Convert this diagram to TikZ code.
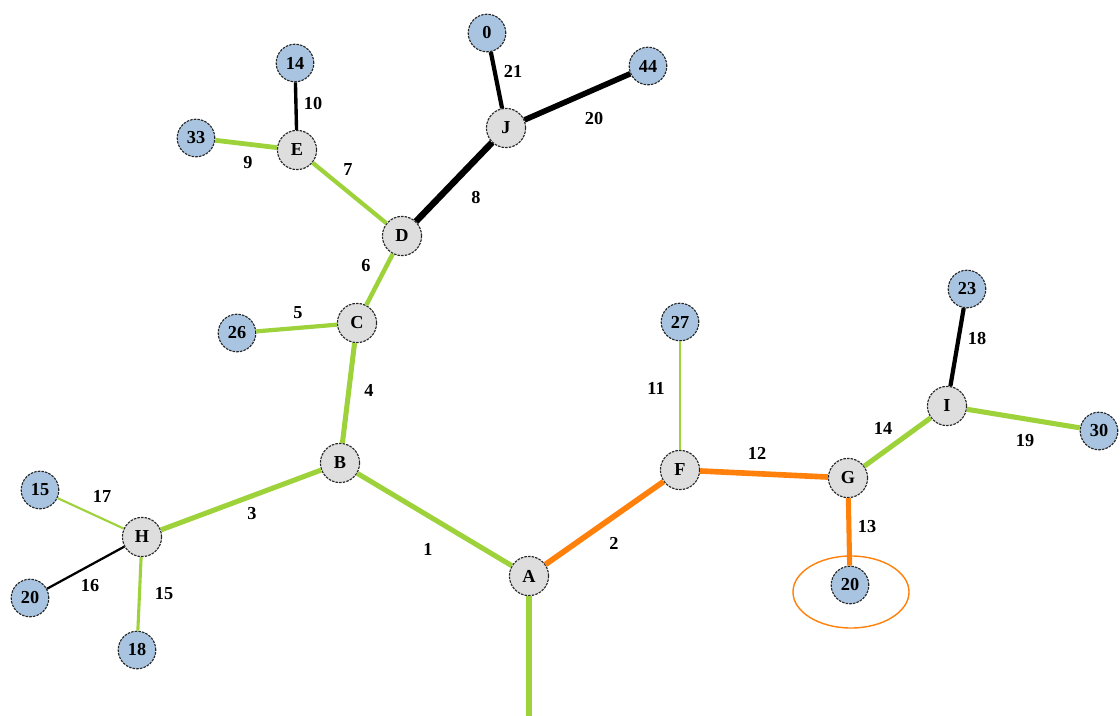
\documentclass[tikz,border=0pt]{standalone}
\usepackage{fontspec}
\setmainfont{Liberation Serif}
\usetikzlibrary{shapes.geometric}
\definecolor{cgreen}{RGB}{158,210,58}
\definecolor{corange}{RGB}{255,128,10}
\definecolor{cleaf}{RGB}{168,196,224}
\definecolor{cinner}{RGB}{222,222,222}

\begin{document}
\begin{tikzpicture}[x=0.025cm,y=-0.025cm,
        leaf/.style={circle,draw=black!85,dash pattern=on 1.8pt off 0.8pt,line width=0.8pt,
          fill=cleaf,inner sep=0pt,minimum size=0.94cm,font=\fontsize{13}{13}\selectfont\bfseries},
        inner/.style={leaf,fill=cinner,minimum size=0.98cm},
        wt/.style={font=\fontsize{13}{13}\selectfont\bfseries,inner sep=1pt}]
      \useasboundingbox (0,0) rectangle (1120,716);
      % inner vertices
      \foreach \n/\x/\y in {A/529/576, B/340/463, C/357/323, D/402/236, E/297/150,
                            F/680/470, G/848/478, H/142/537, I/947/406, J/506/128}
        \node[inner] (\n) at (\x,\y) {\n};
      % leaves
      \foreach \n/\lab/\x/\y in {l0/0/487/33, l44/44/648/66, l14/14/295/63, l33/33/196/138,
                                 l26/26/237/333, l27/27/680/322, l23/23/967/289, l30/30/1099/431,
                                 l15/15/40/490, l20a/20/30/598, l18/18/137/650, l20b/20/850/585}
        \node[leaf] (\n) at (\x,\y) {\lab};
      \coordinate (root) at (529,716);
      % green edges
      \foreach \a/\b/\w in {B/A/3.6pt, C/B/3.6pt, D/C/3.2pt, E/D/3pt, E/l33/3.4pt, C/l26/3pt,
                            B/H/3.6pt, H/l15/1.5pt, H/l18/2.2pt, F/l27/2pt, G/I/3.6pt,
                            I/l30/3.6pt, A/root/3.6pt}
        \draw[cgreen,line width=\w] (\a) -- (\b);
      % black edges
      \foreach \a/\b/\w in {J/D/4.6pt, J/l44/4pt, J/l0/3pt, E/l14/2.4pt, I/l23/3pt, H/l20a/1.6pt}
        \draw[black,line width=\w] (\a) -- (\b);
      % orange edges
      \foreach \a/\b/\w in {A/F/4pt, F/G/4pt, G/l20b/3.6pt}
        \draw[corange,line width=\w] (\a) -- (\b);
      \node[draw=corange,line width=1pt,ellipse,minimum width=2.9cm,minimum height=1.8cm]
        (mark) at (851,592) {};
      % edge weights
      \foreach \n/\lab/\x/\y in {w21/21/513/71, w20/20/594/119, w10/10/313/104, w9/9/248/163,
                                 w7/7/348/170, w8/8/476/198, w6/6/366/266, w5/5/298/313,
                                 w4/4/369/390, w11/11/656/388, w18/18/977/339, w14/14/883/428,
                                 w19/19/1025/441, w12/12/757/453, w13/13/867/527, w3/3/252/514,
                                 w1/1/428/549, w2/2/614/543, w17/17/102/496, w16/16/90/586,
                                 w15/15/164/594}
        \node[wt] (\n) at (\x,\y) {\lab};
    \end{tikzpicture}
\end{document}
